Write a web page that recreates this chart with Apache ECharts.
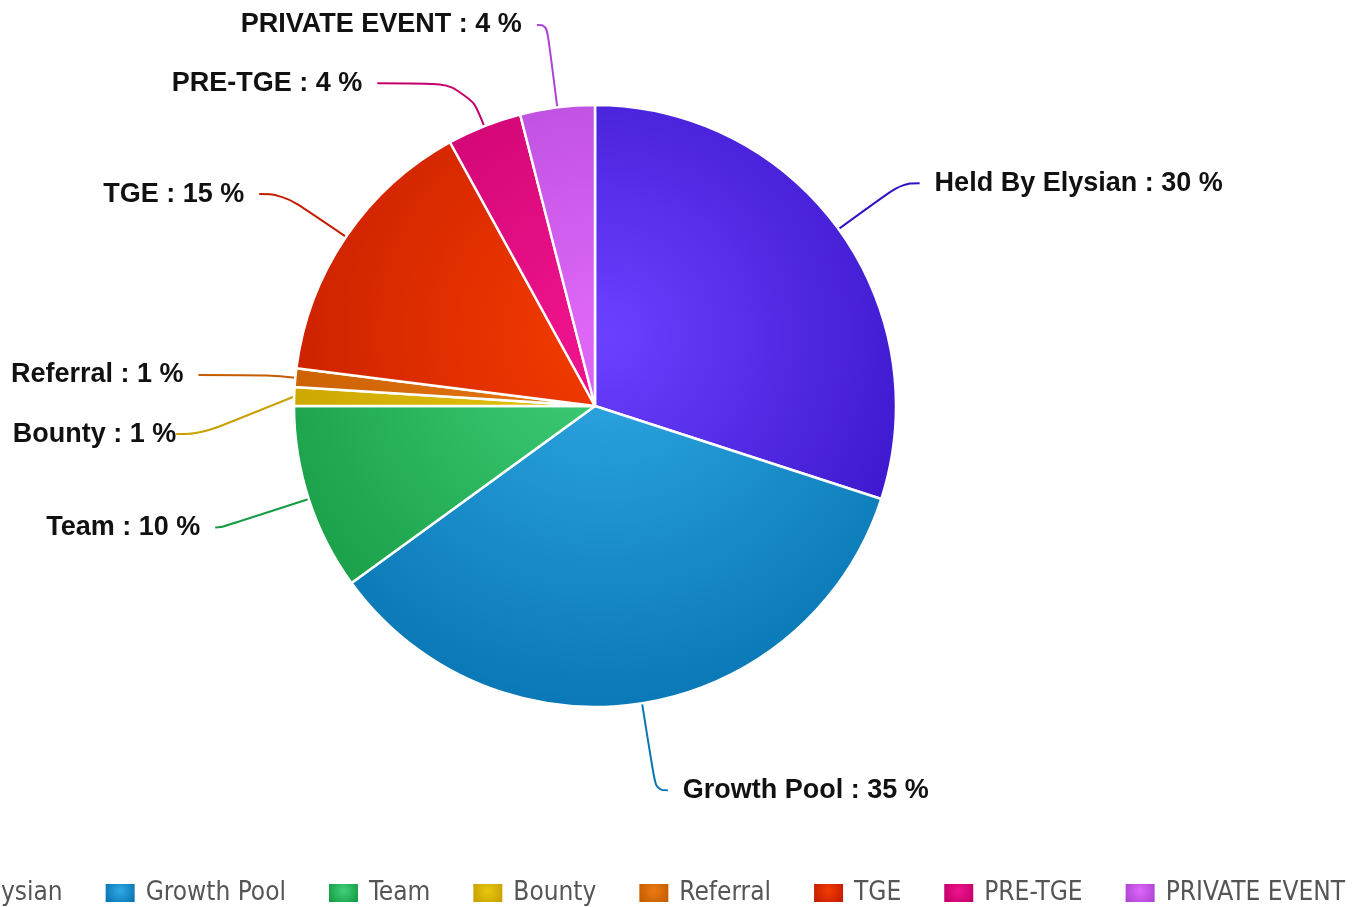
<!DOCTYPE html>
<html>
<head>
<meta charset="utf-8">
<title>Token Allocation</title>
<script src="https://cdn.jsdelivr.net/npm/echarts@6/dist/echarts.min.js"></script>
<style>
  html, body { margin: 0; padding: 0; background: #ffffff; }
  #chart { width: 1362px; height: 907px; }
</style>
</head>
<body>
<div id="chart"></div>
<script>
// Allocation categories and their shares (percent)
const categories = ['Held By Elysian', 'Growth Pool', 'Team', 'Bounty', 'Referral', 'TGE', 'PRE-TGE', 'PRIVATE EVENT'];
const shares = [30, 35, 10, 1, 1, 15, 4, 4];

// Slice palette: bright tone near the centre, deep tone at the rim
const lightColors = ['#6c40ff', '#30aae4', '#42d07c', '#e8c810', '#ec7a14', '#f43c00', '#f0148e', '#e068f8'];
const darkColors  = ['#3410c4', '#0876b4', '#169c44', '#c8a000', '#c45c00', '#c41c00', '#c4006a', '#ac44d4'];

// Connector lengths per slice: radial part, then horizontal part
const connectorRadial = [78, 88, 92, 78, 29, 76, 46, 83];
const connectorFlat   = [18, 12, 6, 25, 68, 24, 90, 10];

const cx = 595, cy = 406, pieRadius = 301;
// The two thin neighbouring slices (Bounty / Referral) need their labels spread apart
const bountyIndex = 3, bountyLabelDrop = 40;

function sliceFill(i) {
  return {
    type: 'radial', x: 605, y: 335, r: 390, global: true,
    colorStops: [
      { offset: 0, color: lightColors[i] },
      { offset: 1, color: darkColors[i] }
    ]
  };
}

function iconFill(i) {
  return {
    type: 'radial', x: 0.5, y: 0.4, r: 0.75,
    colorStops: [
      { offset: 0, color: lightColors[i] },
      { offset: 1, color: darkColors[i] }
    ]
  };
}

const seriesData = categories.map((name, i) => ({
  name: name,
  value: shares[i],
  itemStyle: { color: sliceFill(i) },
  labelLine: {
    length: connectorRadial[i],
    length2: connectorFlat[i],
    lineStyle: { color: darkColors[i] }
  }
}));

const legendData = categories.map((name, i) => ({
  name: name,
  itemStyle: { color: iconFill(i) }
}));

const chart = echarts.init(document.getElementById('chart'), null, { renderer: 'canvas' });

chart.setOption({
  animation: false,
  backgroundColor: '#ffffff',
  legend: {
    data: legendData,
    orient: 'horizontal',
    right: 17,
    top: 880,
    width: 2400,
    padding: 0,
    itemGap: 41,
    itemWidth: 31,
    itemHeight: 20,
    icon: 'rect',
    textStyle: {
      fontFamily: '"DejaVu Sans Condensed", "DejaVu Sans", sans-serif',
      fontSize: 26,
      color: '#555555',
      padding: [0, 0, 0, 5]
    }
  },
  series: [{
    type: 'pie',
    center: [cx, cy],
    radius: pieRadius,
    startAngle: 90,
    clockwise: true,
    avoidLabelOverlap: false,
    data: seriesData,
    itemStyle: {
      borderColor: '#ffffff',
      borderWidth: 2.5
    },
    label: {
      show: true,
      formatter: '{b} : {c} %',
      fontFamily: '"Liberation Sans", Arial, sans-serif',
      fontWeight: 'bold',
      fontSize: 27,
      color: '#111111',
      distanceToLabelLine: 15
    },
    labelLine: {
      show: true,
      smooth: 0.45,
      lineStyle: { width: 2 }
    },
    labelLayout: function (params) {
      if (params.dataIndex === bountyIndex) {
        return { y: params.labelRect.y + params.labelRect.height / 2 + bountyLabelDrop };
      }
      return {};
    },
    emphasis: { disabled: true }
  }]
});
</script>
</body>
</html>
